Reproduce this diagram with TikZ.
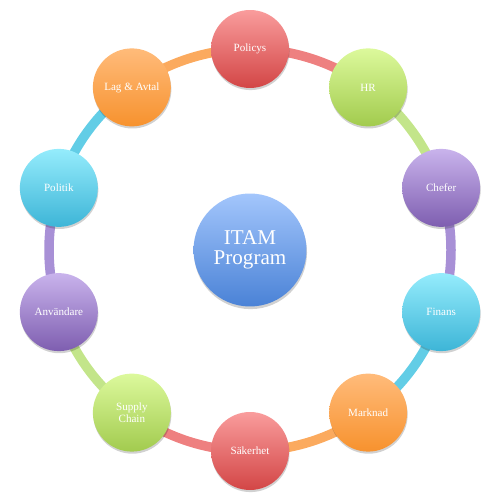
\documentclass[tikz,border=0pt]{standalone}
\usepackage{fontspec}
\setmainfont{Liberation Serif}
\usetikzlibrary{backgrounds,shadows,calc}
\definecolor{redT}{HTML}{F99C9C}
\definecolor{redB}{HTML}{D34646}
\definecolor{redA}{HTML}{EE8080}
\definecolor{greenT}{HTML}{DCF99C}
\definecolor{greenB}{HTML}{A2CB4E}
\definecolor{greenA}{HTML}{C3E58A}
\definecolor{purpleT}{HTML}{C9B3EC}
\definecolor{purpleB}{HTML}{7E5EB0}
\definecolor{purpleA}{HTML}{A890D6}
\definecolor{blueT}{HTML}{95ECFC}
\definecolor{blueB}{HTML}{3DB5D7}
\definecolor{blueA}{HTML}{62CDE6}
\definecolor{orangeT}{HTML}{FFBB7A}
\definecolor{orangeB}{HTML}{F7922E}
\definecolor{orangeA}{HTML}{FBAA5E}
\definecolor{centerT}{HTML}{A3C6FC}
\definecolor{centerB}{HTML}{4A82D6}
\tikzset{
  bub/.style={circle, minimum size=1.56cm, inner sep=0pt, align=center,
    text=white, font=\fontsize{6.3}{6.8}\selectfont,
    top color=#1T, bottom color=#1B, draw=none,
    drop shadow={shadow xshift=0.3pt, shadow yshift=-1.2pt, opacity=0.18, fill=black}},
  hub/.style={circle, minimum size=2.26cm, inner sep=0pt, align=center,
    text=white, font=\fontsize{12}{11.5}\selectfont,
    top color=centerT, bottom color=centerB, draw=none,
    drop shadow={shadow xshift=0.3pt, shadow yshift=-1.5pt, opacity=0.18, fill=black}},
  ring/.style={line width=0.19cm, draw=#1A}
}
\begin{document}
\begin{tikzpicture}[x=0.02cm,y=0.02cm]
\useasboundingbox (0,0) rectangle (500,500);
\node[hub] (hub) at (250,250) {ITAM\\Program};
\foreach \i/\lab/\col in {0/Policys/red, 1/HR/green, 2/Chefer/purple, 3/Finans/blue,
  4/Marknad/orange, 5/Säkerhet/red, 6/{Supply\\Chain}/green, 7/Användare/purple,
  8/Politik/blue, 9/Lag \& Avtal/orange}{
  \pgfmathsetmacro{\ang}{90-36*\i}
  \node[bub=\col] (n\i) at ($(250,250)+(\ang:201)$) {\lab};
  \begin{scope}[on background layer]
    \draw[ring=\col] (n\i.center) arc[start angle=\ang, end angle=\ang-36, radius=201];
  \end{scope}
}
\end{tikzpicture}
\end{document}
